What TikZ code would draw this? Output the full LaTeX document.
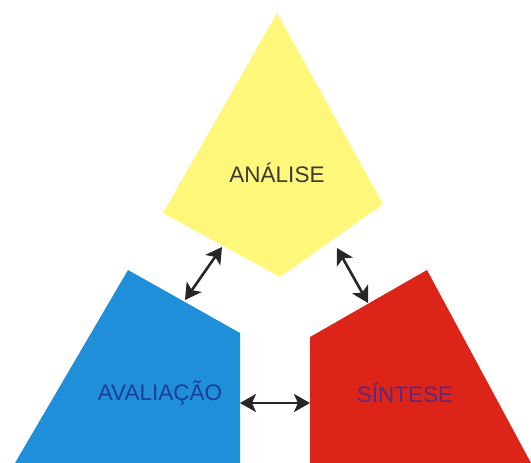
\documentclass[tikz,border=0pt]{standalone}
\usepackage{fontspec}
\setmainfont{Liberation Sans}
\usetikzlibrary{arrows.meta}
\definecolor{ylw}{HTML}{FFF77A}
\definecolor{blu}{HTML}{1E8FD8}
\definecolor{rd}{HTML}{DD2418}
\definecolor{txtg}{HTML}{3A3A3A}
\definecolor{txtb}{HTML}{1E3E9E}
\definecolor{txtp}{HTML}{5A2A80}
\tikzset{
  lbl/.style={font=\fontsize{22.5}{22.5}\selectfont, inner sep=0pt},
  tipk/.tip={Stealth[length=16pt,width=18pt,inset=4pt]},
  dbl/.style={line width=2.6pt, black!85, tipk-tipk}
}
\begin{document}
\begin{tikzpicture}[x=1pt,y=-1pt]
\useasboundingbox (0,0) rectangle (531,463);
\fill[ylw] (277,13) -- (383,204) -- (280,277) -- (163,213) -- cycle;
\fill[blu] (128,270) -- (240,333) -- (240,463) -- (15,463) -- cycle;
\fill[rd] (427,270) -- (531,463) -- (310,463) -- (310,337) -- cycle;
\node[lbl, text=txtg] (an) at (277,173) {ANÁLISE};
\node[lbl, text=txtb] (av) at (160,393) {AVALIAÇÃO};
\node[lbl, text=txtp] (si) at (405,393) {SÍNTESE};
\coordinate (a1) at (222,247);
\coordinate (a2) at (185,300);
\coordinate (b1) at (337,248);
\coordinate (b2) at (368,303);
\coordinate (c1) at (240,403);
\coordinate (c2) at (310,403);
\draw[dbl] (a1) -- (a2);
\draw[dbl] (b1) -- (b2);
\draw[dbl] (c1) -- (c2);
\end{tikzpicture}
\end{document}
